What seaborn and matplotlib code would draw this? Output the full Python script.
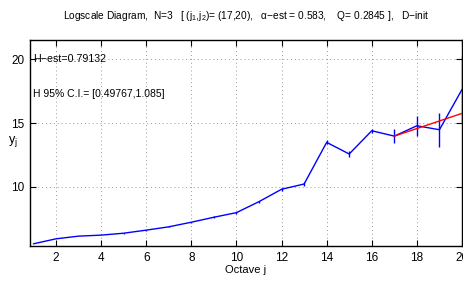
import numpy as np
import pandas as pd
import seaborn as sns
import matplotlib
matplotlib.use("Agg")
import matplotlib.pyplot as plt

# octaves and log-scale values y_j
octaves = [1, 2, 3, 4, 5, 6, 7, 8, 9, 10, 11, 12, 13, 14, 15, 16, 17, 18, 19, 20]
yj = [5.55, 5.94, 6.15, 6.23, 6.38, 6.62, 6.88, 7.24, 7.63, 7.99,
      8.85, 9.82, 10.23, 13.49, 12.58, 14.40, 13.98, 14.79, 14.48, 17.63]
# half-width of confidence intervals
yerr = [0.02, 0.02, 0.02, 0.02, 0.03, 0.03, 0.04, 0.05, 0.06, 0.08,
        0.09, 0.1, 0.12, 0.15, 0.2, 0.15, 0.55, 0.8, 1.33, 2.63]
# regression over (j1, j2)
fit_j = [17, 20]
fit_y = [13.98, 15.76]

x_ticks = [2, 4, 6, 8, 10, 12, 14, 16, 18, 20]
y_ticks = [10, 15, 20]

title = ("Logscale Diagram,  N=3   [ (j$_1$,j$_2$)= (17,20),   \u03b1\u2212est = 0.583,"
         "    Q= 0.2845 ],   D\u2212init")
h_est = "H\u2212est=0.79132"
h_ci = "H 95% C.I.= [0.49767,1.085]"

sns.set_style("ticks")
plt.rcParams["font.family"] = ["Liberation Sans", "DejaVu Sans"]
plt.rcParams["mathtext.fontset"] = "custom"
plt.rcParams["mathtext.rm"] = "Liberation Sans"
plt.rcParams["mathtext.it"] = "Liberation Sans"
for key in ["text.color", "axes.labelcolor", "xtick.color", "ytick.color", "axes.edgecolor"]:
    plt.rcParams[key] = "black"

df = pd.DataFrame({"j": octaves, "y": yj, "err": yerr})
fit = pd.DataFrame({"j": fit_j, "y": fit_y})

fig = plt.figure(figsize=(4.64, 2.82), dpi=100)
ax = fig.add_axes([0.0647, 0.1277, 0.931, 0.7303])

ax.errorbar(df["j"], df["y"], yerr=df["err"], fmt="none", ecolor="blue",
            elinewidth=1.0, capsize=0, zorder=2)
sns.lineplot(data=df, x="j", y="y", color="blue", linewidth=1.0, ax=ax,
             estimator=None, sort=False, zorder=3)
sns.lineplot(data=fit, x="j", y="y", color="red", linewidth=1.0, ax=ax,
             estimator=None, sort=False, zorder=4)

ax.set_xlim(0.85, 20)
ax.set_ylim(5.38, 21.5)
ax.set_xticks(x_ticks)
ax.set_yticks(y_ticks)
ax.grid(True, linestyle=(0, (1, 3)), color="#999999", linewidth=0.7)
ax.tick_params(direction="in", length=4, width=0.8, labelsize=8.5,
               top=True, right=True, pad=4, colors="black")
for s in ax.spines.values():
    s.set_visible(True)
    s.set_linewidth(1.0)
    s.set_color("black")

ax.set_title(title, fontsize=7.3, pad=15)
ax.set_xlabel("Octave j", fontsize=8, labelpad=1)
ax.set_ylabel("y$_\\mathregular{j}$", fontsize=9, rotation=0, labelpad=2)
ax.yaxis.set_label_coords(-0.04, 0.47)

ax.text(1.0, 20.0, h_est, fontsize=7.7, va="center", ha="left")
ax.text(1.0, 17.3, h_ci, fontsize=7.5, va="center", ha="left")

fig.savefig("out.png", dpi=100)
